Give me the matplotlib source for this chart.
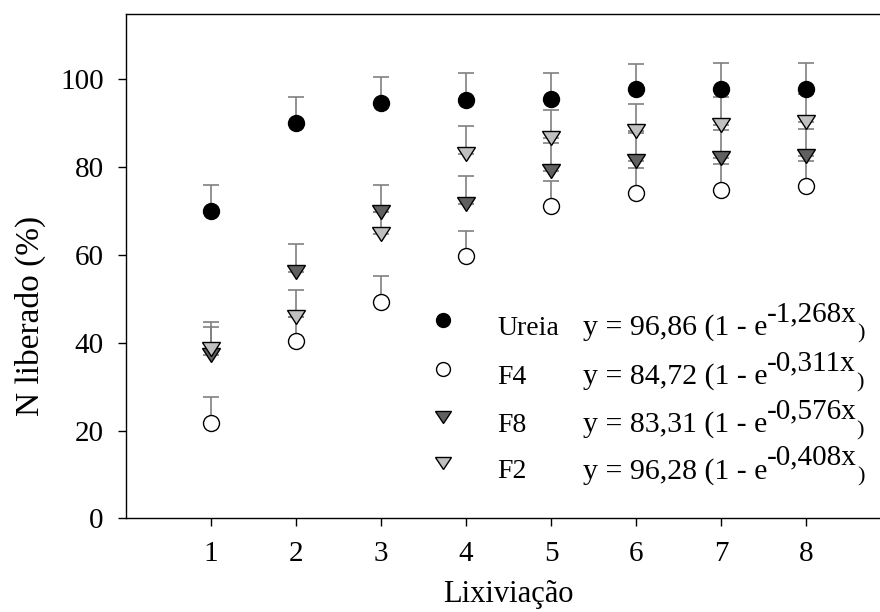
import matplotlib
matplotlib.use("Agg")
import matplotlib.pyplot as plt
from matplotlib.markers import MarkerStyle
from matplotlib.transforms import Affine2D
import numpy as np

plt.rcParams["font.family"] = ["Liberation Serif", "DejaVu Serif"]

# Leaching number
lix = [1, 2, 3, 4, 5, 6, 7, 8]

# N released (%) and upper error for each treatment
ureia = [69.9, 90.1, 94.7, 95.4, 95.6, 97.7, 97.9, 97.9]
ureia_err = [6.0, 5.8, 5.8, 6.0, 5.8, 5.9, 5.9, 5.9]
f4 = [21.6, 40.3, 49.2, 59.7, 71.1, 74.0, 74.9, 75.6]
f4_err = [6.1, 5.5, 5.9, 5.8, 5.7, 5.8, 5.9, 5.8]
f8 = [37.3, 56.1, 69.8, 71.5, 79.1, 81.4, 82.1, 82.5]
f8_err = [6.2, 6.5, 6.2, 6.4, 6.4, 6.3, 6.3, 6.2]
f2 = [38.5, 45.8, 64.8, 82.9, 86.7, 88.2, 89.5, 90.3]
f2_err = [6.2, 6.1, 5.0, 6.4, 6.3, 6.3, 6.5, 6.4]

labels = ["Ureia", "F4", "F8", "F2"]
eq_main = ["y = 96,86 (1 - e", "y = 84,72 (1 - e", "y = 83,31 (1 - e", "y = 96,28 (1 - e"]
eq_sup = ["-1,268x", "-0,311x", "-0,576x", "-0,408x"]

# flattened down-pointing triangle
tri = MarkerStyle("v", transform=Affine2D().scale(1.0, 0.75))
styles = [
    dict(marker="o", mfc="black", ms=11.5),
    dict(marker="o", mfc="white", ms=11.5),
    dict(marker=tri, mfc="#606060", ms=12.5),
    dict(marker=tri, mfc="#c0c0c0", ms=12.5),
]

fig = plt.figure(figsize=(8.8, 6.12), dpi=100)
ax = fig.add_axes([0.1432, 0.1531, 0.8693, 0.8248])

series = [(ureia, ureia_err), (f4, f4_err), (f8, f8_err), (f2, f2_err)]
for (vals, err), st in zip(series, styles):
    ax.errorbar(lix, vals, yerr=[np.zeros(len(err)), err], fmt="none",
                ecolor="#808080", elinewidth=1.2, capsize=6, capthick=1.2, zorder=2)
    ax.plot(lix, vals, linestyle="none", mec="black", mew=1.0, zorder=3, **st)

ax.set_xlim(0, 9)
ax.set_ylim(0, 115)
ax.set_xticks(lix)
ax.set_yticks([0, 20, 40, 60, 80, 100])
ax.tick_params(direction="out", length=6, width=1, labelsize=21, pad=10)
for sp in ax.spines.values():
    sp.set_linewidth(1.0)

ax.set_xlabel("Lixiviação", fontsize=22, labelpad=10)
ax.set_ylabel("N liberado (%)", fontsize=24)
ax.yaxis.set_label_coords(-0.105, 0.40)

# legend with the fitted equations
renderer = fig.canvas.get_renderer()
inv = ax.transAxes.inverted()
row_y = [0.363, 0.266, 0.171, 0.079]
for i, y in enumerate(row_y):
    st = dict(styles[i])
    st["ms"] = st["ms"] - 1.5
    ax.plot([0.414], [y + 0.03], transform=ax.transAxes, linestyle="none",
            mec="black", mew=1.0, clip_on=False, **st)
    ax.text(0.485, y, labels[i], transform=ax.transAxes, fontsize=20, va="baseline")
    t = ax.text(0.597, y, eq_main[i], transform=ax.transAxes, fontsize=21.5, va="baseline")
    bb = t.get_window_extent(renderer)
    x1 = inv.transform((bb.x1, bb.y0))[0]
    t2 = ax.text(x1, y + 0.027, eq_sup[i], transform=ax.transAxes, fontsize=21, va="baseline")
    bb2 = t2.get_window_extent(renderer)
    x2 = inv.transform((bb2.x1, bb2.y0))[0]
    ax.text(x2, y - 0.006, ")", transform=ax.transAxes, fontsize=16, va="baseline")

fig.savefig("out.png", dpi=100)
